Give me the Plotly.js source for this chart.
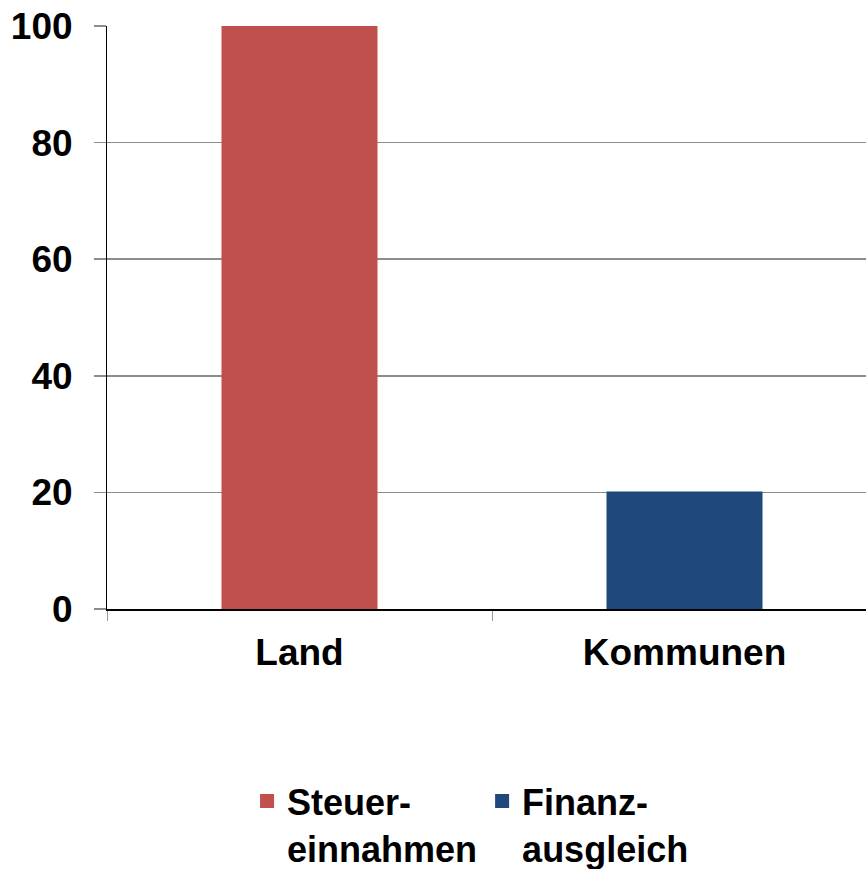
<!DOCTYPE html>
<html>
<head>
<meta charset="utf-8">
<script src="https://cdn.plot.ly/plotly-3.0.1.min.js"></script>
<style>html,body{margin:0;padding:0;background:#fff;}#chart{width:866px;height:869px;}</style>
</head>
<body>
<div id="chart"></div>
<script>
var categories = ["Land", "Kommunen"];
var steuereinnahmen = [100, null];
var finanzausgleich = [null, 20];
var seriesNames = ["Steuer-<br>einnahmen", "Finanz-<br>ausgleich"];
var yTickValues = [0, 20, 40, 60, 80, 100];

var font = {family: "Liberation Sans, Arial, sans-serif", size: 37, color: "#000", weight: "bold"};
var legendFont = {family: "Liberation Sans, Arial, sans-serif", size: 36, color: "#000", weight: "bold"};

var data = [
  {type: "bar", x: categories, y: steuereinnahmen, name: seriesNames[0],
   marker: {color: "#C0504D", line: {color: "#C0504D", width: 2}}, width: 0.4},
  {type: "bar", x: categories, y: finanzausgleich, name: seriesNames[1],
   marker: {color: "#1F497D", line: {color: "#1F497D", width: 2}}, width: 0.4}
];

var layout = {
  width: 866, height: 869,
  margin: {l: 107, r: 0, t: 26, b: 260, pad: 0, autoexpand: false},
  paper_bgcolor: "#fff", plot_bgcolor: "#fff",
  barmode: "overlay",
  font: font,
  showlegend: true,
  legend: {orientation: "h", x: 0.479, xanchor: "center", y: -0.278, yanchor: "top",
           font: legendFont, itemwidth: 30, traceorder: "normal", valign: "top", tracegroupgap: 0},
  xaxis: {
    type: "category", range: [-0.5, 1.4714],
    showgrid: false, showline: true, linecolor: "#000", linewidth: 1.5,
    ticks: "outside", tickson: "boundaries", ticklen: 10, tickcolor: "#999", tickwidth: 1,
    tickfont: font, ticklabelstandoff: 10, zeroline: false, fixedrange: true
  },
  yaxis: {
    range: [0, 100], tickvals: yTickValues, ticktext: yTickValues.map(String),
    showgrid: true, gridcolor: "#8c8c8c", gridwidth: 1.5,
    showline: true, linecolor: "#000", linewidth: 1,
    ticks: "outside", ticklen: 12, tickcolor: "#8c8c8c", tickwidth: 1.5,
    tickfont: font, ticklabelstandoff: 14, zeroline: false, fixedrange: true
  }
};

Plotly.newPlot("chart", data, layout, {displayModeBar: false, staticPlot: true});
</script>
</body>
</html>
